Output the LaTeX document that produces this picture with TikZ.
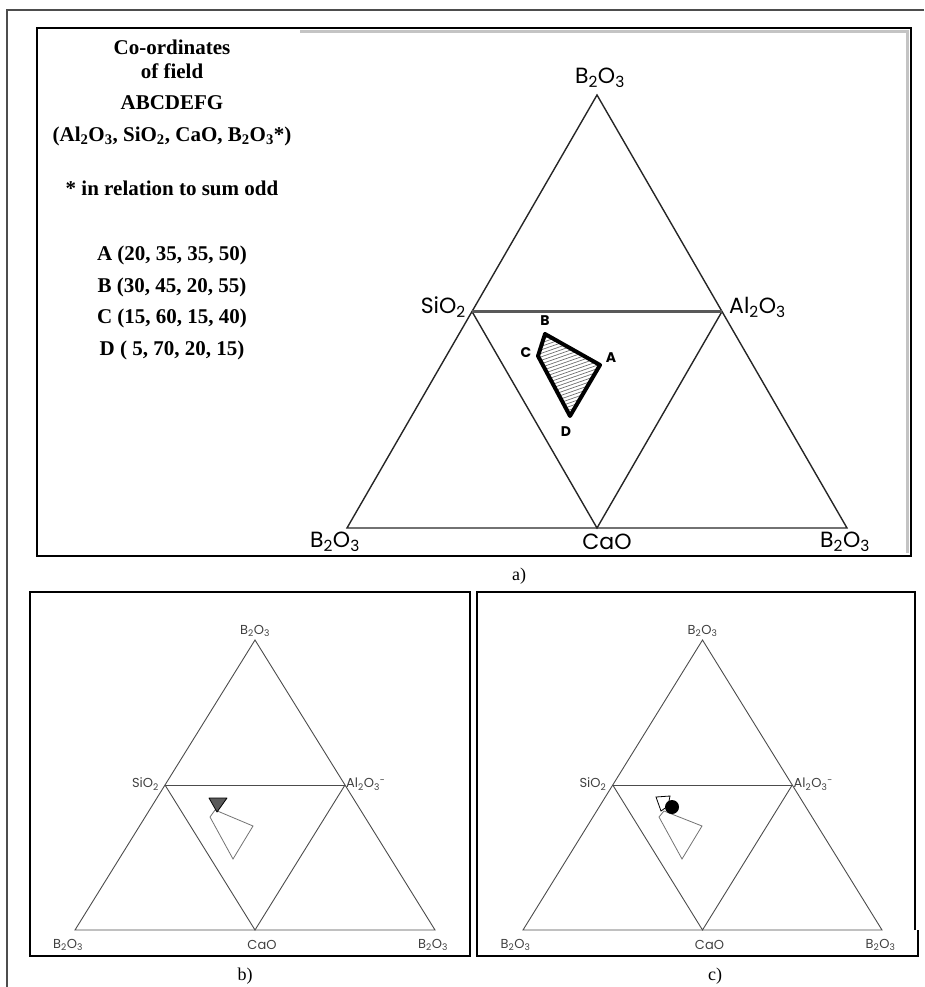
\documentclass[tikz,border=0pt]{standalone}
\usepackage{fontspec}
\setmainfont{Liberation Serif}
\newfontfamily\gothfont{Poppins}
\usetikzlibrary{positioning,calc}
\definecolor{framegray}{HTML}{4D4D4D}
\definecolor{shadegray}{HTML}{C4C4C4}
\definecolor{hatchgray}{HTML}{707070}
\definecolor{markgray}{HTML}{5A5A5A}
\newcommand{\Btwo}{B\textsubscript{2}O\textsubscript{3}}
\newcommand{\Sitwo}{SiO\textsubscript{2}}
\newcommand{\Altwo}{Al\textsubscript{2}O\textsubscript{3}}
\begin{document}
\begin{tikzpicture}[x=1pt, y=-1pt,
  panel/.style={draw=black, line width=1.6pt},
  triline/.style={draw=black!85, line width=1.4pt},
  thinline/.style={draw=black!70, line width=0.9pt},
  bigtxt/.style={font=\bfseries\fontsize{21}{23}\selectfont, inner sep=0pt},
  biglbl/.style={font=\gothfont\fontsize{22}{24}\selectfont, inner sep=1pt},
  smalllbl/.style={font=\gothfont\fontsize{13}{14}\selectfont, inner sep=1pt, text=black!75},
  ptlbl/.style={font=\gothfont\bfseries\fontsize{14}{15}\selectfont, inner sep=0pt},
  caption/.style={font=\fontsize{18}{20}\selectfont, inner sep=0pt},
]
\useasboundingbox (0,0) rectangle (924,987);

% --- outer frame (only left and top edges show)
\coordinate (fr-bl) at (7,987);
\coordinate (fr-tl) at (7,10);
\coordinate (fr-tr) at (924,10);
\draw[framegray, line width=1.6pt] (fr-bl) -- (fr-tl) -- (fr-tr);

% --- panel boxes
\draw[panel] (37,28) rectangle (911,556);
\draw[shadegray, line width=2.4pt] (300,31.5) -- (907.5,31.5) -- (907.5,553);
\draw[panel] (30,592) rectangle (470,956);
\draw[panel] (915,930) -- (915,592) -- (477,592) -- (477,956) -- (918,956) -- (918,930);

% --- the three triangles: panel / left x / right x / apex y / base y / style
\foreach \p/\xl/\xr/\yt/\yb/\st in {a/347/847/95/528/triline,
                                     b/75/435/640/930/thinline,
                                     c/523/882/640/930/thinline} {
  \pgfmathsetmacro{\xm}{(\xl+\xr)/2}
  \pgfmathsetmacro{\ym}{(\yt+\yb)/2}
  \coordinate (\p-top) at (\xm,\yt);
  \coordinate (\p-left) at (\xl,\yb);
  \coordinate (\p-right) at (\xr,\yb);
  \coordinate (\p-sio) at ({(\xl+\xm)/2},\ym);
  \coordinate (\p-alo) at ({(\xm+\xr)/2},\ym);
  \coordinate (\p-cao) at (\xm,\yb);
  \draw[\st] (\p-left) -- (\p-top) -- (\p-right) -- cycle;
  \draw[\st] (\p-sio) -- (\p-cao) -- (\p-alo);
}
\draw[black!65, line width=2.2pt] (a-sio) -- (a-alo);
\draw[thinline] (b-sio) -- (b-alo);
\draw[thinline] (c-sio) -- (c-alo);

% --- labels of panel a
\node[biglbl] (a-ltop) at (600,78) {\Btwo};
\node[biglbl, anchor=east] (a-lsio) at (467,307) {\Sitwo};
\node[biglbl, anchor=west] (a-lalo) at (728,307) {\Altwo};
\node[biglbl] (a-lleft) at (335,542) {\Btwo};
\node[biglbl] (a-lcao) at (607,542) {CaO};
\node[biglbl] (a-lright) at (845,542) {\Btwo};

% --- labels of panels b and c
\foreach \p/\dx in {b/0, c/447.5} {
  \node[smalllbl] (\p-ltop) at (255+\dx,631) {\Btwo};
  \node[smalllbl, anchor=east] (\p-lsio) at (160+\dx,784) {\Sitwo};
  \node[smalllbl, anchor=west] (\p-lalo) at (345+\dx,784) {\Altwo\textsuperscript{-}};
  \node[smalllbl] (\p-lleft) at (68+\dx,945) {\Btwo};
  \node[smalllbl] (\p-lcao) at (262+\dx,945) {CaO};
  \node[smalllbl] (\p-lright) at (433+\dx,945) {\Btwo};
}

% --- field ABCD in panel a
\coordinate (qA) at (600,365);
\coordinate (qB) at (545,334);
\coordinate (qC) at (538,356);
\coordinate (qD) at (570,416);
\begin{scope}
  \clip (qA) -- (qB) -- (qC) -- (qD) -- cycle;
  \foreach \k in {0,...,28} {
    \pgfmathsetmacro{\yy}{338+\k*3.5}
    \draw[hatchgray, line width=0.7pt] (515,\yy) -- (625,\yy-38.5);
  }
\end{scope}
\draw[black, line width=4pt, line join=round] (qA) -- (qB) -- (qC) -- (qD) -- cycle;
\node[ptlbl] (lA) at (611,358) {A};
\node[ptlbl] (lB) at (545,321) {B};
\node[ptlbl] (lC) at (526,353) {C};
\node[ptlbl] (lD) at (566,432) {D};

% --- field and marker in panel b
\coordinate (bA) at (253,826);
\coordinate (bB) at (215,810);
\coordinate (bC) at (210,817);
\coordinate (bD) at (233,859);
\draw[black!55, line width=0.8pt] (bB) -- (bA) -- (bD) -- (bC) -- cycle;
\coordinate (bm1) at (209,798);
\coordinate (bm2) at (227,798);
\coordinate (bm3) at (217,812);
\draw[black, fill=markgray, line width=0.8pt, line join=round] (bm1) -- (bm2) -- (bm3) -- cycle;

% --- field and marker in panel c
\coordinate (cA) at (702,826);
\coordinate (cB) at (664,811);
\coordinate (cC) at (659,817);
\coordinate (cD) at (682,859);
\draw[black!55, line width=0.8pt] (cB) -- (cA) -- (cD) -- (cC) -- cycle;
\coordinate (cm1) at (656,797);
\coordinate (cm2) at (670,796);
\coordinate (cm3) at (668,806);
\coordinate (cm4) at (661,811);
\draw[black, line width=0.8pt] (cm1) -- (cm2) -- (cm3) -- (cm4) -- cycle;
\fill[black] (672,807) circle (7);

% --- text block
\foreach \i/\ty/\tx in {1/47/{Co-ordinates}, 2/71/{of field}, 3/103/{ABCDEFG},
    4/136/{(Al\textsubscript{2}O\textsubscript{3}, SiO\textsubscript{2}, CaO, B\textsubscript{2}O\textsubscript{3}*)},
    5/188/{* in relation to sum odd},
    6/255/{A (20, 35, 35, 50)}, 7/287/{B (30, 45, 20, 55)},
    8/318/{C (15, 60, 15, 40)}, 9/350/{D ( 5, 70, 20, 15)}} {
  \node[bigtxt] (txt\i) at (172,\ty) {\tx};
}

% --- captions
\node[caption] (cap-a) at (519,576) {a)};
\node[caption] (cap-b) at (245,976) {b)};
\node[caption] (cap-c) at (715,976) {c)};
\end{tikzpicture}
\end{document}
